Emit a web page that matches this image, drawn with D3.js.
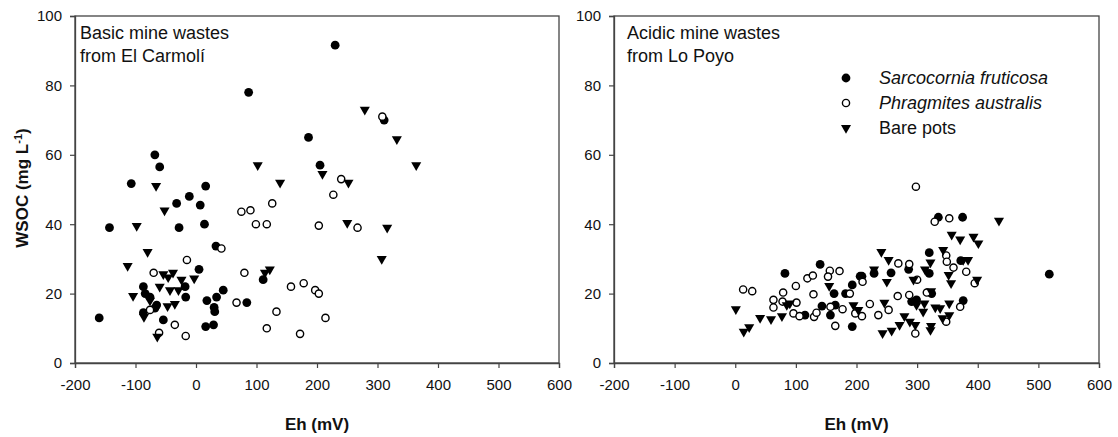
<!DOCTYPE html>
<html><head><meta charset="utf-8">
<script src="https://cdn.jsdelivr.net/npm/d3@7"></script>
<style>
body{margin:0;background:#fff;}
svg{display:block;font-family:"Liberation Sans",Arial,sans-serif;}
</style></head>
<body><svg id="c" width="1118" height="437"></svg>
<script>
// ---- data: [Eh (mV), WSOC (mg/L)] ----
const leftSarcocornia = [[-107,51.7],[-68,60],[-60,56.5],[16,51],[87,78],[186,65],[230,91.6],[311,70],[205,57],[-32,46],[-11,48],[7,45.5],[14,40],[-143,39],[-28,39],[33,33.7],[5,27],[-18,22],[-87,22],[-84,20],[-76,19],[-17,19],[45,21],[34,19],[18,18],[-65,16.7],[-68,15.8],[-87,14.5],[84,17.4],[30,16],[31,14.8],[111,24],[-160,13],[-54,12.4],[16,10.5],[29,11]];
const leftPhragmites = [[308,71],[240,53],[227,48.5],[203,39.6],[267,39],[178,23],[197,21],[203,20],[214,13],[172,8.4],[75,43.6],[90,44],[126,46],[99,40],[117,40],[42,33],[-15,29.7],[-70,26],[-76,15.3],[67,17.4],[80,26],[157,22],[133,14.8],[117,10],[-35,11],[-17,7.8],[-61,8.7]];
const leftBare = [[-66,51],[102,57],[139,52],[279,73],[332,64.5],[364,57],[209,54.5],[252,52],[250,40.4],[316,39],[307,30],[-52,44],[-98,39.5],[-80,32],[-113,28],[-54,25.6],[-38,26],[-46,24.7],[-24,24],[-3,24.4],[-60,22],[-43,21],[-29,21],[-104,19.3],[-76,18],[-47,16.4],[-35,17],[-86,13.3],[114,26],[122,27],[-64,7.6]];
const rightSarcocornia = [[335,42],[375,42],[518,25.6],[320,31.8],[286,27],[320,25.8],[257,26],[229,25.8],[209,25],[193,22.5],[291,17.7],[299,18.2],[324,20],[376,18],[193,10.5],[82,25.8],[115,13.8],[140,28.4],[143,16.4],[163,20],[182,20],[165,16.7],[157,13.8],[206,25],[372,29.5]];
const rightPhragmites = [[298,50.8],[329,40.7],[353,41.7],[348,31],[269,28.7],[287,28.5],[349,29.2],[360,27.5],[381,26.3],[395,23],[300,24],[210,23.4],[268,19.3],[287,19.6],[316,20.3],[371,16.2],[348,11.9],[297,8.5],[253,15.3],[236,13.8],[222,17],[209,13.5],[198,14.3],[189,20],[13,21.2],[28,20.7],[63,18.2],[63,16],[79,20.3],[78,17.7],[101,17.4],[100,22.2],[96,14.3],[106,13.5],[119,24.4],[128,25.2],[129,19.8],[130,13.3],[134,14.5],[156,26.6],[153,24.9],[172,26.5],[157,16.2],[165,10.7],[177,15.5]];
const rightBare = [[435,41],[357,37],[371,35.6],[393,36.4],[401,34.5],[343,32.6],[241,32],[253,29.7],[322,29],[313,27],[376,29.7],[384,29.7],[352,25.4],[356,23],[399,24],[229,27],[250,23.4],[294,24],[299,16.7],[312,17.2],[323,20.7],[310,14.8],[330,16],[338,15.8],[353,17.2],[353,13.8],[342,12.9],[279,13.5],[288,11.9],[297,11],[322,9.5],[323,10.7],[271,11],[258,9.3],[243,8.6],[246,17.4],[195,16.7],[203,15.3],[1,15.5],[14,9],[23,10.3],[41,13],[59,12.6],[77,13.5],[85,16.7],[90,17.2],[155,22.2]];
const xTicks = [-200,-100,0,100,200,300,400,500,600];
const yTicks = [0,20,40,60,80,100];
const seriesNames = ["Sarcocornia fruticosa","Phragmites australis","Bare pots"];
const panelTitles = [["Basic mine wastes","from El Carmolí"],["Acidic mine wastes","from Lo Poyo"]];

const svg = d3.select("#c");
const y = d3.scaleLinear().domain([0,100]).range([363,16]);
const panels = [
  {x0:75, x1:559, data:[leftSarcocornia,leftPhragmites,leftBare], title:panelTitles[0]},
  {x0:614, x1:1099, data:[rightSarcocornia,rightPhragmites,rightBare], title:panelTitles[1]}
];
const tri = d3.symbol().type(d3.symbolTriangle).size(44);

function drawMarker(g, kind, cx, cy){
  if(kind===0){
    g.append("circle").attr("cx",cx).attr("cy",cy).attr("r",4.4).attr("fill","#000");
  } else if(kind===1){
    g.append("circle").attr("cx",cx).attr("cy",cy).attr("r",3.6).attr("fill","#fff").attr("stroke","#000").attr("stroke-width",1.4);
  } else {
    g.append("path").attr("d",tri()).attr("transform",`translate(${cx},${cy}) rotate(180)`).attr("fill","#000");
  }
}

panels.forEach((p,pi)=>{
  const x = d3.scaleLinear().domain([-200,600]).range([p.x0,p.x1]);
  const g = svg.append("g");
  g.append("rect").attr("x",p.x0).attr("y",16).attr("width",p.x1-p.x0).attr("height",363-16)
    .attr("fill","none").attr("stroke","#444").attr("stroke-width",1.3);
  const ax = g.append("g").attr("transform","translate(0,363)")
    .call(d3.axisBottom(x).tickValues(xTicks).tickSize(5).tickPadding(11).tickFormat(d=>String(d)));
  const ay = g.append("g").attr("transform",`translate(${p.x0},0)`)
    .call(d3.axisLeft(y).tickValues(yTicks).tickSize(5).tickPadding(8).tickFormat(d=>String(d)));
  [ax,ay].forEach(a=>{
    a.select(".domain").attr("stroke","#444").attr("stroke-width",1.3);
    a.selectAll(".tick line").attr("stroke","#444").attr("stroke-width",1.2);
    a.selectAll(".tick text").attr("font-size",15).attr("fill","#111").attr("font-family","Liberation Sans, Arial, sans-serif");
  });
  p.title.forEach((t,i)=>{
    g.append("text").attr("x",p.x0+(pi===0?5:13)).attr("y",39+i*23).attr("font-size",18).attr("fill","#111").text(t);
  });
  g.append("text").attr("x",(p.x0+p.x1)/2).attr("y",430).attr("text-anchor","middle")
    .attr("font-size",17).attr("font-weight","bold").attr("fill","#111").text("Eh (mV)");
  p.data.forEach((arr,k)=>{
    const sg = g.append("g");
    arr.forEach(d=>drawMarker(sg,k,x(d[0]),y(d[1])));
  });
});

const yl = svg.append("text").attr("transform","translate(28,188) rotate(-90)").attr("text-anchor","middle")
  .attr("font-size",17).attr("font-weight","bold").attr("fill","#111");
yl.append("tspan").text("WSOC (mg L");
yl.append("tspan").attr("dy",-6).attr("font-size",11).text("-1");
yl.append("tspan").attr("dy",6).text(")");

const lg = svg.append("g");
seriesNames.forEach((n,i)=>{
  const cy = 78 + i*25;
  drawMarker(lg,i,846,cy);
  lg.append("text").attr("x",879).attr("y",cy+6).attr("font-size",18).attr("fill","#111")
    .attr("font-style", i<2?"italic":"normal").text(n);
});
</script></body></html>
